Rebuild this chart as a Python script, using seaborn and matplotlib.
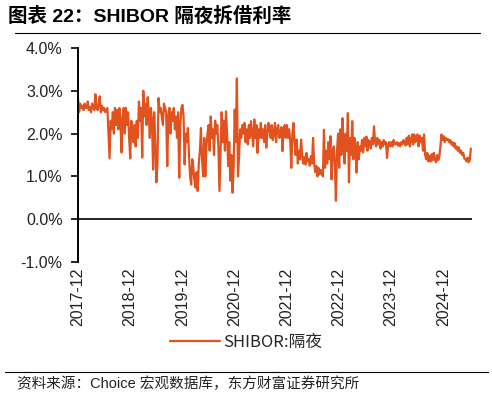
import matplotlib
matplotlib.use("Agg")
import matplotlib.pyplot as plt
import seaborn as sns
import pandas as pd
import numpy as np
from matplotlib.lines import Line2D

# ---- data (SHIBOR overnight, %, ~weekly readings, Dec-2017 .. Jun-2025) ----
y2017 = [2.83, 2.50, 2.70, 2.60]
y2018 = [2.65, 2.55, 2.70, 2.60,  2.60, 2.75, 2.55, 2.62,  2.50, 2.70, 2.60, 2.55,
         2.92, 2.60, 2.55, 2.70,  2.87, 2.50, 2.65, 2.55,  2.60, 2.50, 2.55, 2.60,
         2.00, 1.42, 2.30, 2.10,  2.50, 2.00, 2.60, 2.20,  2.55, 2.10, 2.60, 2.30,
         1.56, 2.40, 2.60, 2.00,  2.60, 2.20, 2.50, 1.90,  1.42, 2.30, 2.10, 1.80]
y2019 = [2.20, 1.70, 2.30, 1.90,  2.75, 2.30, 2.60, 1.44,  3.00, 2.40, 2.70, 2.20,
         2.85, 2.50, 1.90, 2.60,  2.30, 1.16, 2.50, 1.80,  0.86, 1.30, 2.83, 2.50,
         2.60, 2.40, 2.20, 2.70,  2.60, 2.50, 1.24, 2.40,  2.60, 2.00, 2.50, 2.30,
         2.60, 2.10, 2.40, 1.90,  2.50, 0.97, 2.20, 2.60,  2.67, 2.40, 1.28, 2.00]
y2020 = [1.80, 2.13, 1.50, 1.00,  0.81, 1.40, 1.20, 0.90,  0.74, 1.10, 0.66, 1.30,
         1.60, 2.13, 1.40, 1.00,  1.90, 1.00, 1.70, 2.00,  2.20, 1.60, 2.40, 1.90,
         2.10, 1.50, 2.30, 2.00,  2.20, 1.70, 0.66, 1.60,  2.50, 1.80, 2.30, 1.60,
         2.52, 2.00, 1.24, 1.80,  0.90, 1.50, 0.62, 1.20,  2.56, 1.80, 3.29, 1.00]
y2021 = [1.47, 2.10, 1.90, 2.20,  2.00, 2.25, 1.80, 2.10,  1.75, 2.20, 1.90, 2.29,
         2.00, 1.70, 2.33, 1.90,  2.20, 1.55, 2.10, 1.90,  2.25, 1.90, 2.10, 1.80,
         2.20, 1.67, 2.00, 2.25,  2.10, 1.90, 2.20, 1.85,  2.00, 2.25, 1.80, 2.10,
         2.20, 1.90, 2.00, 2.15,  1.59, 2.10, 2.20, 1.90,  2.20, 1.90, 2.10, 1.85]
y2022 = [1.20, 2.00, 2.25, 1.80,  1.50, 1.86, 1.30, 1.60,  1.40, 1.86, 1.50, 1.30,
         1.45, 1.28, 1.55, 1.35,  1.40, 1.25, 1.47, 1.30,  1.90, 1.30, 1.10, 1.25,
         1.00, 1.20, 1.05, 1.15,  1.10, 1.00, 2.09, 1.20,  1.60, 1.30, 1.80, 1.40,
         1.94, 0.93, 1.50, 1.70,  1.30, 0.43, 1.60, 2.00,  1.20, 2.10, 1.50, 2.36]
y2023 = [1.80, 1.30, 2.00, 1.60,  2.48, 0.86, 1.90, 1.50,  2.29, 1.40, 1.90, 1.60,
         1.09, 1.80, 1.40, 1.70,  1.60, 1.85, 1.56, 1.90,  1.70, 1.93, 1.60, 1.85,
         1.80, 1.65, 1.90, 1.75,  2.17, 1.80, 1.70, 1.90,  1.75, 1.85, 1.65, 1.80,
         1.70, 1.85, 1.75, 1.80,  1.43, 1.75, 1.80, 1.70,  1.80, 1.70, 1.85, 1.75]
y2024 = [1.75, 1.80, 1.72, 1.78,  1.70, 1.80, 1.75, 1.85,  1.80, 1.72, 1.90, 1.75,
         1.95, 1.70, 1.85, 1.98,  1.75, 1.98, 1.80, 1.90,  1.98, 1.70, 1.95, 1.80,
         1.90, 1.60, 1.98, 1.50,  1.40, 1.55, 1.35, 1.48,  1.35, 1.52, 1.38, 1.55,
         1.40, 1.33, 1.50, 1.38,  1.45, 1.70, 1.98, 1.85,  1.94, 1.80, 1.90, 1.85]
y2025 = [1.87, 1.80, 1.85, 1.75,  1.80, 1.70, 1.78, 1.65,  1.70, 1.60, 1.68, 1.55,
         1.60, 1.50, 1.55, 1.42,  1.40, 1.35, 1.44, 1.33,  1.38, 1.65]

series_name = "SHIBOR:隔夜"
start_date, end_date = "2017-12-01", "2025-06-12"
tick_labels = ["2017-12", "2018-12", "2019-12", "2020-12",
               "2021-12", "2022-12", "2023-12", "2024-12"]
y_ticks = [-1.0, 0.0, 1.0, 2.0, 3.0, 4.0]
y_tick_labels = ["-1.0%", "0.0%", "1.0%", "2.0%", "3.0%", "4.0%"]

values = y2017 + y2018 + y2019 + y2020 + y2021 + y2022 + y2023 + y2024 + y2025
dates = pd.date_range(start_date, end_date, periods=len(values))
df = pd.DataFrame({"date": dates, "rate": values, "series": series_name})

# ---- style ----
sns.set_theme(style="white")
latin_cjk = ["Liberation Sans", "Noto Sans CJK SC"]
plt.rcParams["font.family"] = latin_cjk
plt.rcParams["axes.unicode_minus"] = False

fig = plt.figure(figsize=(4.92, 3.95), dpi=100)
ax = fig.add_axes([78 / 492, 1 - 262 / 395, (472 - 78) / 492, (262 - 48) / 395])

color = "#E2521F"
sns.lineplot(data=df, x="date", y="rate", hue="series", palette=[color],
             linewidth=1.6, ax=ax, legend=False)

ax.axhline(0, color="black", linewidth=1.2, zorder=3)

ax.set_xlim(pd.Timestamp(start_date), pd.Timestamp("2025-06-20"))
ax.set_ylim(-1.0, 4.0)
ax.set_yticks(y_ticks)
ax.set_yticklabels(y_tick_labels, fontsize=11.5, color="#222222")
tick_pos = [pd.Timestamp(t + "-01") for t in tick_labels]
ax.set_xticks(tick_pos)
ax.set_xticklabels(tick_labels, rotation=90, fontsize=11.5, color="#222222")
ax.tick_params(axis="x", length=0, pad=4)
ax.tick_params(axis="y", length=5, width=1.2, direction="out", color="black", pad=6, left=True)
ax.set_xlabel("")
ax.set_ylabel("")
for s in ["top", "right", "bottom"]:
    ax.spines[s].set_visible(False)
ax.spines["left"].set_color("black")
ax.spines["left"].set_linewidth(1.4)
ax.grid(False)

# legend
handle = Line2D([0], [0], color=color, linewidth=1.6)
fig.legend([handle], [series_name], loc="center", bbox_to_anchor=(0.5, 1 - 342 / 395),
           frameon=False, handlelength=3.0, handletextpad=0.2,
           prop={"family": ["Noto Sans CJK SC"], "size": 12})

# title and rules
fig.text(8 / 492, 1 - 16 / 395, "图表 22：SHIBOR 隔夜拆借利率", fontsize=14, fontweight="bold",
         ha="left", va="center", family=latin_cjk, color="black")
fig.add_artist(Line2D([15 / 492, 480 / 492], [1 - 33 / 395, 1 - 33 / 395],
                      color="black", linewidth=0.8, transform=fig.transFigure))
fig.add_artist(Line2D([5 / 492, 488 / 492], [1 - 372 / 395, 1 - 372 / 395],
                      color="black", linewidth=0.8, transform=fig.transFigure))
fig.text(17 / 492, 1 - 384 / 395, "资料来源：Choice 宏观数据库，东方财富证券研究所", fontsize=10.5,
         ha="left", va="center", family=latin_cjk, color="#222222")

fig.savefig("out.png", dpi=100)
